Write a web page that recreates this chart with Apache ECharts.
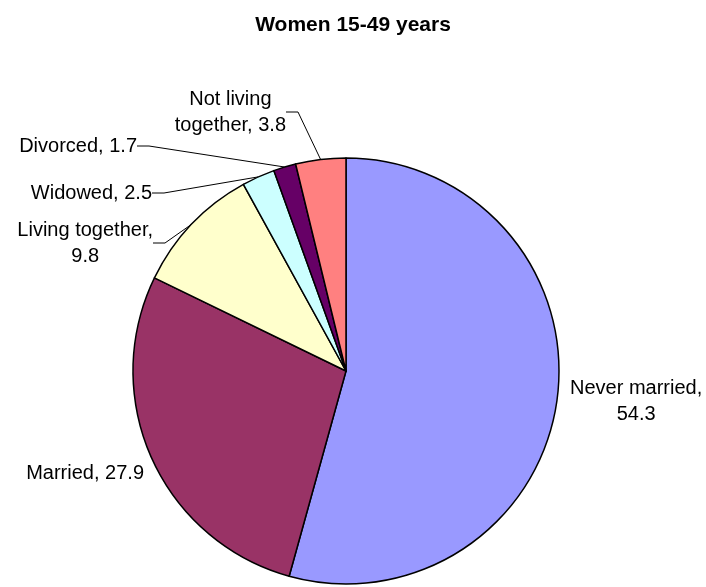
<!DOCTYPE html>
<html>
<head>
    <meta charset="UTF-8">
    <title>Women 15-49 years</title>
    <script src="https://cdn.jsdelivr.net/npm/echarts@6/dist/echarts.min.js"></script>
</head>
<body style="margin:0;">
<div id="pie" style="width:706px; height:587px;"></div>
<script>
    // data
    var categories = ['Never married', 'Married', 'Living together', 'Widowed', 'Divorced', 'Not living together'];
    var shares = [54.3, 27.9, 9.8, 2.5, 1.7, 3.8];
    // how each label is written: first line, second line (empty = one line)
    var labelLines = [
        ['Never married,', '54.3'],
        ['Married, 27.9', ''],
        ['Living together,', '9.8'],
        ['Widowed, 2.5', ''],
        ['Divorced, 1.7', ''],
        ['Not living', 'together, 3.8']
    ];
    var colors = ['#9999FF', '#993366', '#FFFFCC', '#CCFFFF', '#660066', '#FF8080'];

    // where the labels sit (anchor x, middle y), like in the excel picture
    var labelSpots = {
        'Never married': [570, 401, 'left'],
        'Married': [144, 473, 'right'],
        'Living together': [153, 243, 'right'],
        'Widowed': [152, 193, 'right'],
        'Divorced': [137, 146, 'right'],
        'Not living together': [286, 112, 'right']
    };
    var noLine = ['Never married', 'Married'];

    var chart = echarts.init(document.getElementById('pie'), null, {renderer: 'canvas'});

    var seriesData = categories.map(function (name, i) {
        var item = {name: name, value: shares[i], itemStyle: {color: colors[i]}};
        if (noLine.indexOf(name) >= 0) {
            item.labelLine = {show: false};
        }
        return item;
    });

    var option = {
        animation: false,
        backgroundColor: '#ffffff',
        title: {
            text: 'Women 15-49 years',
            left: 'center',
            top: 10,
            textStyle: {
                fontFamily: 'Liberation Sans, Arial, sans-serif',
                fontSize: 21,
                fontWeight: 'bold',
                color: '#000'
            }
        },
        series: [{
            type: 'pie',
            center: [346, 371],
            radius: 213,
            startAngle: 90,
            clockwise: true,
            avoidLabelOverlap: false,
            itemStyle: {borderColor: '#000', borderWidth: 1.5},
            emphasis: {disabled: true},
            label: {
                show: true,
                position: 'outside',
                alignTo: 'none',
                color: '#000',
                fontFamily: 'Liberation Sans, Arial, sans-serif',
                fontSize: 20,
                lineHeight: 26,
                formatter: function (p) {
                    var l = labelLines[p.dataIndex];
                    return l[1] ? '{t|' + l[0] + '}\n{t|' + l[1] + '}' : '{t|' + l[0] + '}';
                },
                rich: {
                    t: {
                        align: 'center',
                        color: '#000',
                        fontFamily: 'Liberation Sans, Arial, sans-serif',
                        fontSize: 20,
                        lineHeight: 26
                    }
                }
            },
            labelLine: {
                show: true,
                length: 10,
                length2: 12,
                lineStyle: {color: '#000', width: 1}
            },
            labelLayout: function (params) {
                var spot = labelSpots[categories[params.dataIndex]];
                return {x: spot[0], y: spot[1], align: spot[2], verticalAlign: 'middle'};
            },
            data: seriesData
        }]
    };
    chart.setOption(option);
</script>
</body>
</html>
